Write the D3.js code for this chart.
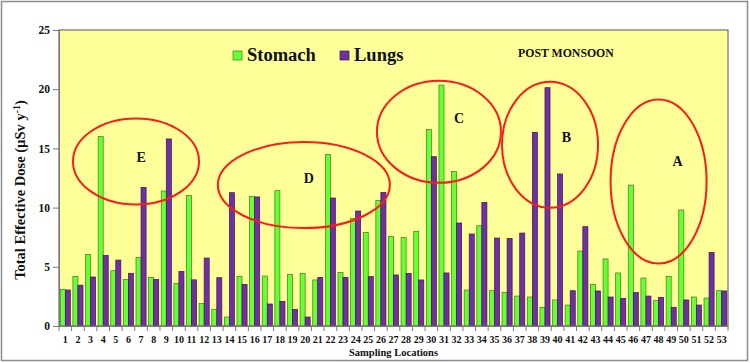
<!DOCTYPE html>
<html>
<head>
<meta charset="utf-8">
<script src="https://cdn.jsdelivr.net/npm/d3@7"></script>
<style>
  body { margin: 0; background: #fff; }
  text { font-family: "Liberation Serif", "Times New Roman", serif; font-weight: bold; fill: #111; }
</style>
</head>
<body>
<script>
var locations = d3.range(1, 54).map(String);
var stomach = [3.1, 4.17, 6.05, 16.0, 4.67, 3.94, 5.8, 4.1, 11.4, 3.6,
  11.04, 1.89, 1.41, 0.76, 4.17, 10.95, 4.22, 11.43, 4.36, 4.45,
  3.89, 14.5, 4.53, 9.07, 7.91, 10.59, 7.57, 7.49, 8.0, 16.61,
  20.35, 13.06, 3.04, 8.47, 2.98, 2.84, 2.53, 2.45, 1.58, 2.2,
  1.77, 6.33, 3.52, 5.66, 4.48, 11.9, 4.05, 2.14, 4.17, 9.8,
  2.45, 2.36, 2.98];
var lungs = [3.04, 3.45, 4.14, 5.97, 5.57, 4.45, 11.7, 3.94, 15.8, 4.6,
  3.9, 5.74, 4.08, 11.26, 3.52, 10.9, 1.86, 2.08, 1.41, 0.76,
  4.11, 10.81, 4.11, 9.71, 4.17, 11.29, 4.31, 4.45, 3.89, 14.3,
  4.48, 8.7, 7.77, 10.44, 7.43, 7.4, 7.85, 16.36, 20.13, 12.84,
  2.98, 8.39, 2.96, 2.45, 2.34, 2.82, 2.53, 2.42, 1.58, 2.2,
  1.77, 6.22, 2.96];
var seriesNames = ["Stomach", "Lungs"];
var seriesColors = ["#66ff33", "#7030a0"];
var yTicks = [0, 5, 10, 15, 20, 25];

// circled groups: label, centre (location, dose), radii in px
var groups = [
  {label: "E", cx: 6.6, cy: 13.9, rx: 63, ry: 43, lx: 7.0, ly: 14.2},
  {label: "D", cx: 19.9, cy: 11.9, rx: 86, ry: 43, lx: 20.3, ly: 12.5},
  {label: "C", cx: 30.6, cy: 16.4, rx: 62, ry: 51, lx: 32.2, ly: 17.5},
  {label: "B", cx: 39.4, cy: 15.3, rx: 48, ry: 63, lx: 40.7, ly: 15.9},
  {label: "A", cx: 48.0, cy: 12.2, rx: 48, ry: 82, lx: 49.5, ly: 13.9}
];

var width = 750, height = 363;
var margin = {left: 59, right: 22, top: 30, bottom: 37};

var svg = d3.select("body").append("svg")
  .attr("width", width)
  .attr("height", height);

svg.append("rect")
  .attr("x", 1.5).attr("y", 1.5)
  .attr("width", width - 4).attr("height", height - 4)
  .attr("fill", "#fff").attr("stroke", "#8c8c8c").attr("stroke-width", 1.5);

var x = d3.scaleBand()
  .domain(locations)
  .range([margin.left, width - margin.right])
  .paddingInner(0.2).paddingOuter(0.1);
var xs = d3.scaleBand()
  .domain(seriesNames)
  .range([0, x.bandwidth()]);
var y = d3.scaleLinear()
  .domain([0, 25])
  .range([height - margin.bottom, margin.top]);

// continuous helper for placing ellipses by location number
var xc = function(v) {
  return x("1") + x.bandwidth() / 2 + (v - 1) * x.step();
};

svg.append("rect")
  .attr("x", margin.left).attr("y", margin.top)
  .attr("width", width - margin.left - margin.right)
  .attr("height", height - margin.top - margin.bottom)
  .attr("fill", "#ffff99").attr("stroke", "#6e6e6e").attr("stroke-width", 1.2);

var data = locations.map(function(d, i) {
  return {loc: d, vals: [{s: "Stomach", v: stomach[i]}, {s: "Lungs", v: lungs[i]}]};
});

var g = svg.selectAll("g.loc")
  .data(data)
  .enter().append("g")
  .attr("class", "loc")
  .attr("transform", function(d) { return "translate(" + x(d.loc) + ",0)"; });

g.selectAll("rect")
  .data(function(d) { return d.vals; })
  .enter().append("rect")
  .attr("x", function(d) { return xs(d.s); })
  .attr("y", function(d) { return y(d.v); })
  .attr("width", xs.bandwidth())
  .attr("height", function(d) { return y(0) - y(d.v); })
  .attr("fill", function(d, i) { return seriesColors[i]; })
  .attr("stroke", function(d, i) { return i ? "#3a1460" : "#3f7a22"; })
  .attr("stroke-width", 0.7);

// y axis
var yAxis = svg.append("g")
  .attr("transform", "translate(" + margin.left + ",0)")
  .call(d3.axisLeft(y).tickValues(yTicks).tickSize(6).tickPadding(3));
yAxis.select(".domain").attr("stroke", "#777");
yAxis.selectAll("line").attr("stroke", "#777");
yAxis.selectAll("text").style("font-size", "11.5px");

// x axis: ticks between categories
var xAxis = svg.append("g")
  .attr("transform", "translate(0," + y(0) + ")");
xAxis.append("line")
  .attr("x1", margin.left).attr("x2", width - margin.right)
  .attr("stroke", "#777");
xAxis.selectAll("line.tk")
  .data(d3.range(0, locations.length + 1))
  .enter().append("line")
  .attr("class", "tk")
  .attr("x1", function(i) { return margin.left + i * x.step(); })
  .attr("x2", function(i) { return margin.left + i * x.step(); })
  .attr("y1", 0).attr("y2", 5)
  .attr("stroke", "#777");
xAxis.selectAll("text")
  .data(locations)
  .enter().append("text")
  .attr("x", function(d) { return x(d) + x.bandwidth() / 2; })
  .attr("y", 17)
  .attr("text-anchor", "middle")
  .style("font-size", "10px")
  .text(function(d) { return d; });

svg.append("text")
  .attr("x", (margin.left + width - margin.right) / 2)
  .attr("y", 356)
  .attr("text-anchor", "middle")
  .style("font-size", "10.5px")
  .text("Sampling Locations");

var yl = svg.append("text")
  .attr("transform", "translate(25," + ((margin.top + height - margin.bottom) / 2 + 12) + ") rotate(-90)")
  .attr("text-anchor", "middle")
  .style("font-size", "14.5px");
yl.append("tspan").text("Total Effective Dose  (\u00b5Sv y");
yl.append("tspan").attr("dy", -5).style("font-size", "10px").text("-1");
yl.append("tspan").attr("dy", 5).text(")");

// legend
var legend = svg.selectAll("g.leg")
  .data(seriesNames)
  .enter().append("g")
  .attr("class", "leg")
  .attr("transform", function(d, i) { return "translate(" + (233 + i * 107) + ",51)"; });
legend.append("rect")
  .attr("width", 9).attr("height", 9)
  .attr("fill", function(d, i) { return seriesColors[i]; })
  .attr("stroke", function(d, i) { return i ? "#3a1460" : "#3f7a22"; })
  .attr("stroke-width", 0.7);
legend.append("text")
  .attr("x", 14).attr("y", 10)
  .style("font-size", "18.5px")
  .text(function(d) { return d; });

svg.append("text")
  .attr("x", 518).attr("y", 57)
  .style("font-size", "11.8px")
  .text("POST MONSOON");

// circled groups
svg.selectAll("ellipse")
  .data(groups)
  .enter().append("ellipse")
  .attr("cx", function(d) { return xc(d.cx); })
  .attr("cy", function(d) { return y(d.cy); })
  .attr("rx", function(d) { return d.rx; })
  .attr("ry", function(d) { return d.ry; })
  .attr("fill", "none")
  .attr("stroke", "#ff1a1a")
  .attr("stroke-width", 2);
svg.selectAll("text.grp")
  .data(groups)
  .enter().append("text")
  .attr("class", "grp")
  .attr("x", function(d) { return xc(d.lx); })
  .attr("y", function(d) { return y(d.ly); })
  .attr("text-anchor", "middle")
  .attr("dominant-baseline", "central")
  .style("font-size", "14px")
  .text(function(d) { return d.label; });
</script>
</body>
</html>
